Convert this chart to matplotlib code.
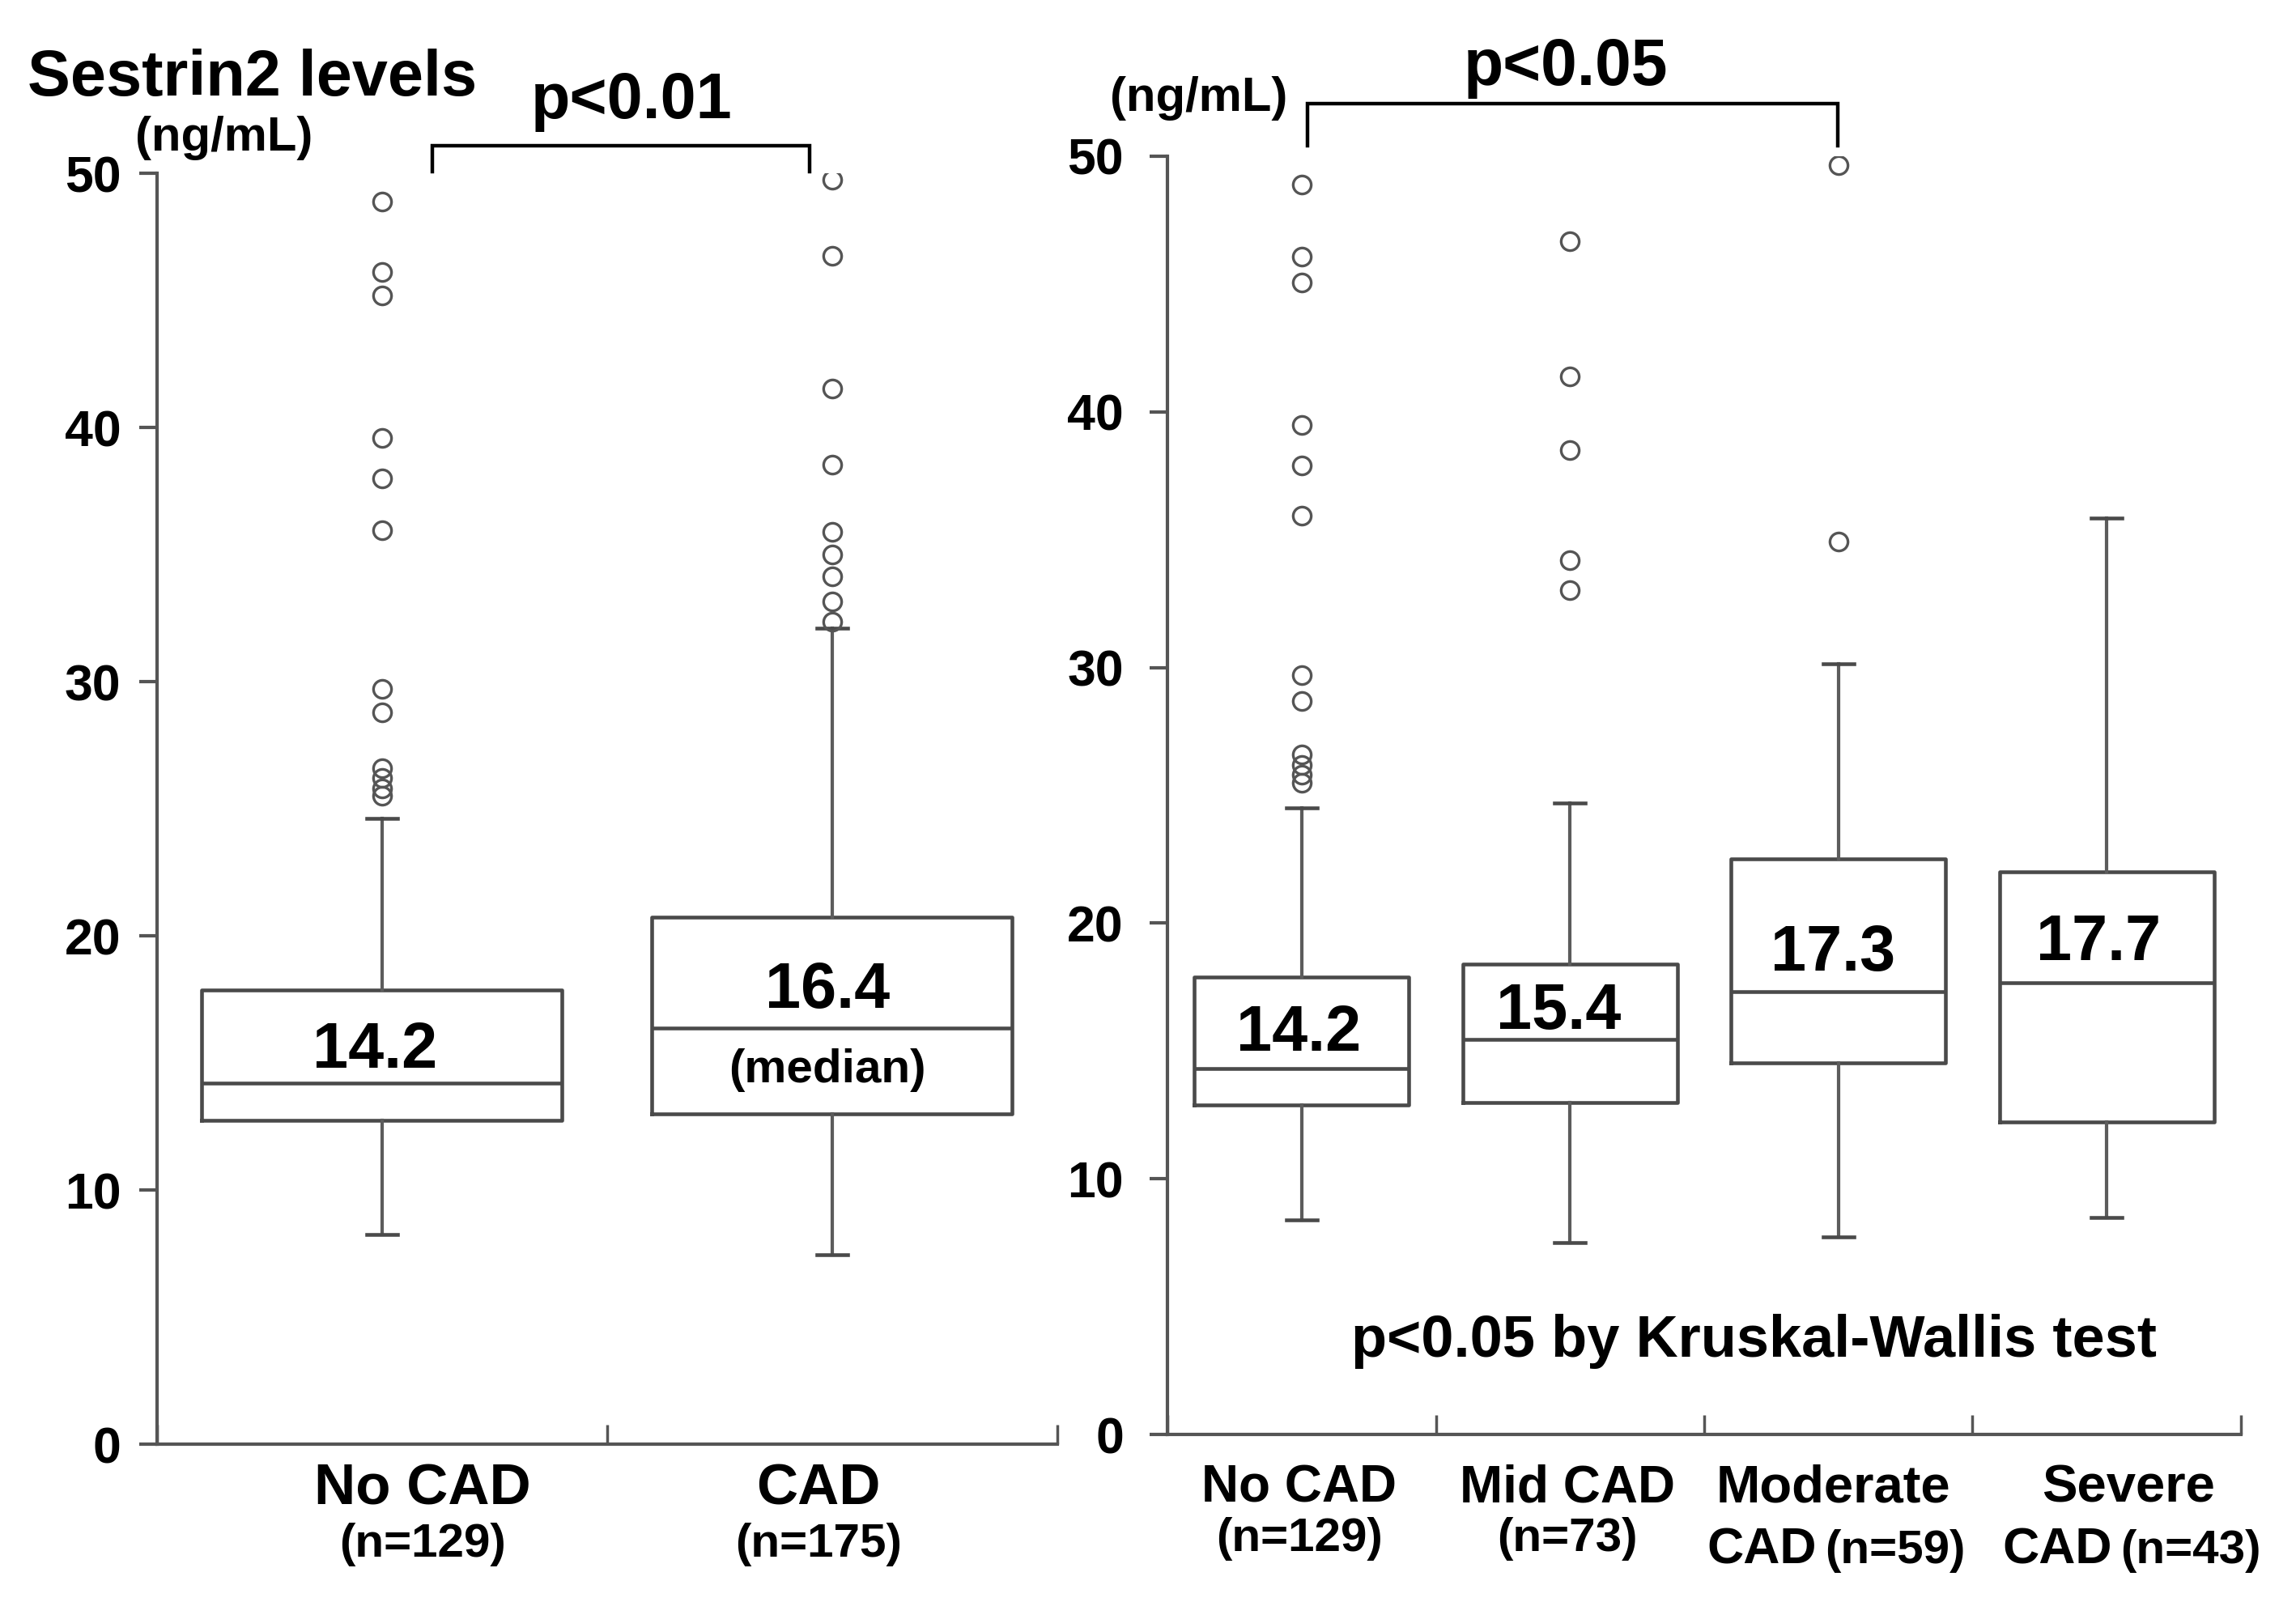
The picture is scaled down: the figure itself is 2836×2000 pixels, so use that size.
import matplotlib
matplotlib.use("Agg")
import matplotlib.pyplot as plt

plt.rcParams['font.family'] = ['Liberation Sans', 'DejaVu Sans']
plt.rcParams['font.weight'] = 'bold'

# ---- data (ng/mL) ----
left_groups = ["No CAD", "CAD"]
left_n = ["(n=129)", "(n=175)"]
left_q1 = [12.75, 12.98]
left_med = [14.2, 16.37]
left_q3 = [17.87, 20.74]
left_lo = [8.26, 7.45]
left_hi = [24.62, 32.1]
left_fliers = [
    [48.9, 46.1, 45.2, 39.6, 38.0, 35.95, 29.7, 28.8, 26.6, 26.2, 25.8, 25.5],
    [49.75, 46.76, 41.54, 38.54, 35.9, 35.0, 34.14, 33.15, 32.36],
]
left_med_labels = ["14.2", "16.4"]

right_groups = ["No CAD", "Mid CAD", "Moderate", "Severe"]
right_n = ["(n=129)", "(n=73)", "(n=59)", "(n=43)"]
right_q1 = [12.89, 12.97, 14.55, 12.22]
right_med = [14.31, 15.44, 17.33, 17.66]
right_q3 = [17.88, 18.39, 22.53, 22.02]
right_lo = [8.39, 7.52, 7.74, 8.5]
right_hi = [24.5, 24.7, 30.15, 35.85]
right_fliers = [
    [48.9, 46.07, 45.06, 39.5, 37.9, 35.95, 29.7, 28.7, 26.6, 26.2, 25.8, 25.5],
    [46.66, 41.4, 38.5, 34.2, 33.04],
    [49.65, 34.94],
    [],
]
right_med_labels = ["14.2", "15.4", "17.3", "17.7"]

yticks = [0, 10, 20, 30, 40, 50]

# text placement (data units) for the labels inside / under the boxes
left_lab_x = [0.485, 1.489]
left_lab_y = [14.8, 17.15]
left_cat_x = [0.59, 1.47]
right_lab_x = [0.488, 1.457, 2.48, 3.47]
right_lab_y = [15.0, 15.86, 18.14, 18.56]
right_cat_x = [0.49, 1.49, 2.48, 3.58]

BOX = '#4a4a4a'
WHISK = '#5c5c5c'


def make_stats(q1, med, q3, lo, hi, fliers):
    return [dict(q1=a, med=b, q3=c, whislo=d, whishi=e, fliers=f)
            for a, b, c, d, e, f in zip(q1, med, q3, lo, hi, fliers)]


def style_axes(ax, ncat, ypad):
    ax.set_xlim(0, ncat)
    ax.set_ylim(0, 50)
    for s in ['top', 'right']:
        ax.spines[s].set_visible(False)
    for s in ['left', 'bottom']:
        ax.spines[s].set_color('#555555')
        ax.spines[s].set_linewidth(3)
    ax.set_yticks(yticks)
    ax.set_xticks(range(ncat + 1))
    ax.set_xticklabels([])
    ax.tick_params(axis='y', direction='out', length=16, width=3, color='#555555',
                   pad=ypad, labelsize=45)
    ax.tick_params(axis='x', direction='in', length=17, width=2.5, color='#555555')
    for t in ax.get_yticklabels():
        t.set_fontweight('bold')


def draw_boxes(ax, stats, capw):
    pos = [i + 0.5 for i in range(len(stats))]
    ax.bxp(stats, positions=pos, widths=0.8, capwidths=capw, manage_ticks=False,
           boxprops=dict(color=BOX, linewidth=3.3),
           medianprops=dict(color=BOX, linewidth=3.3),
           whiskerprops=dict(color=WHISK, linewidth=3),
           capprops=dict(color=BOX, linewidth=3.3),
           flierprops=dict(marker='o', markerfacecolor='none', markeredgecolor='#555555',
                           markersize=16, markeredgewidth=2.4))


fig = plt.figure(figsize=(28.36, 20), dpi=100)
axL = fig.add_axes([0.0683, 0.108, 0.3922, 0.785])
axR = fig.add_axes([0.5085, 0.114, 0.4675, 0.7895])

# ---- left panel: No CAD vs CAD ----
draw_boxes(axL, make_stats(left_q1, left_med, left_q3, left_lo, left_hi, left_fliers), 0.068)
style_axes(axL, len(left_groups), 16)

for i, lab in enumerate(left_med_labels):
    axL.text(left_lab_x[i], left_lab_y[i], lab, ha='center', va='baseline',
             fontsize=57, fontweight='bold')
axL.text(1.49, 14.24, "(median)", ha='center', va='baseline', fontsize=42, fontweight='bold')

for i, (g, n) in enumerate(zip(left_groups, left_n)):
    axL.text(left_cat_x[i], -2.36, g, ha='center', va='baseline', fontsize=51,
             fontweight='bold', clip_on=False)
    axL.text(left_cat_x[i], -4.43, n, ha='center', va='baseline', fontsize=42,
             fontweight='bold', clip_on=False)

# bracket p<0.01
axL.plot([0.611, 0.611, 1.449, 1.449], [50.05, 51.08, 51.08, 50.05], color='black',
         linewidth=3.2, clip_on=False, solid_joinstyle='miter')

# ---- right panel: CAD severity ----
draw_boxes(axR, make_stats(right_q1, right_med, right_q3, right_lo, right_hi, right_fliers), 0.115)
style_axes(axR, len(right_groups), 23)

for i, lab in enumerate(right_med_labels):
    axR.text(right_lab_x[i], right_lab_y[i], lab, ha='center', va='baseline',
             fontsize=57, fontweight='bold')

for i, (g, n) in enumerate(zip(right_groups, right_n)):
    xc = right_cat_x[i]
    if i < 2:
        axR.text(xc, -2.63, g, ha='center', va='baseline', fontsize=46,
                 fontweight='bold', clip_on=False)
        axR.text(xc, -4.56, n, ha='center', va='baseline', fontsize=42,
                 fontweight='bold', clip_on=False)
    else:
        axR.text(xc, -2.63, g, ha='center', va='baseline', fontsize=47,
                 fontweight='bold', clip_on=False)
        axR.text(xc - 0.06, -5.05, "CAD", ha='right', va='baseline', fontsize=45,
                 fontweight='bold', clip_on=False)
        axR.text(xc - 0.03, -5.05, n, ha='left', va='baseline', fontsize=42,
                 fontweight='bold', clip_on=False)

axR.text(2.185, 3.05, "p<0.05 by Kruskal-Wallis test", ha='center', va='baseline',
         fontsize=52, fontweight='bold')

# bracket p<0.05 (No CAD vs Moderate CAD)
axR.plot([0.522, 0.522, 2.497, 2.497], [50.4, 52.07, 52.07, 50.4], color='black',
         linewidth=3.2, clip_on=False, solid_joinstyle='miter')

# ---- titles and units ----
fig.text(0.012, 0.941, "Sestrin2 levels", ha='left', va='baseline', fontsize=57,
         fontweight='bold')
fig.text(0.0589, 0.907, "(ng/mL)", ha='left', va='baseline', fontsize=43, fontweight='bold')
fig.text(0.5607, 0.9315, "(ng/mL)", ha='right', va='baseline', fontsize=43, fontweight='bold')
fig.text(0.275, 0.927, "p<0.01", ha='center', va='baseline', fontsize=57, fontweight='bold')
fig.text(0.682, 0.9474, "p<0.05", ha='center', va='baseline', fontsize=58, fontweight='bold')

fig.savefig("out.png", dpi=100, facecolor='white')
